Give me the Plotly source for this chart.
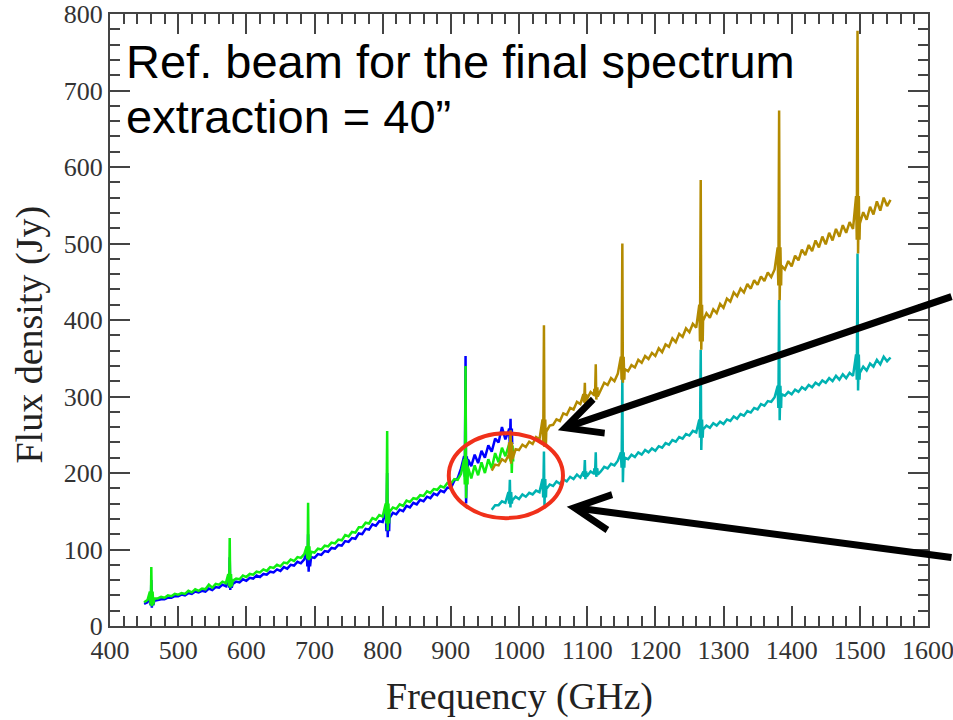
import plotly.graph_objects as go

# ---------------- data ----------------
# low-frequency bands (450-990 GHz), 5 GHz sampling
freq_low = list(range(450, 995, 5))
green_flux = [31, 34, 33, 36, 36, 38, 37, 40, 39, 42,
              41, 43, 42, 46, 44, 48, 46, 49, 48, 54,
              50, 55, 54, 58, 56, 60, 59, 62, 61, 66,
              64, 68, 67, 71, 70, 74, 72, 77, 76, 80,
              78, 83, 82, 87, 85, 90, 89, 94, 93, 97,
              96, 101, 100, 105, 104, 109, 108, 113, 112, 119,
              117, 123, 122, 129, 129, 135, 134, 141, 139, 145,
              143, 150, 149, 155, 153, 159, 157, 164, 162, 167,
              166, 171, 170, 176, 174, 179, 178, 183, 181, 187,
              186, 192, 191, 199, 198, 208, 193, 210, 197, 214,
              200, 218, 206, 226, 214, 233, 222, 236, 226]
blue_flux = [29, 31, 30, 33, 34, 35, 35, 37, 37, 39,
             39, 41, 40, 43, 42, 45, 44, 46, 45, 49,
             47, 51, 50, 54, 52, 56, 55, 58, 57, 61,
             59, 63, 62, 66, 64, 68, 67, 71, 70, 74,
             72, 77, 75, 80, 79, 84, 82, 87, 86, 90,
             89, 94, 93, 98, 97, 102, 101, 106, 105, 111,
             110, 115, 114, 121, 120, 127, 126, 133, 131, 137,
             136, 142, 141, 148, 146, 152, 150, 157, 155, 161,
             159, 165, 163, 169, 167, 173, 171, 177, 175, 181,
             180, 190, 193, 206, 210, 218, 209, 224, 213, 229,
             220, 236, 228, 245, 240, 260, 244, 256, 240]

# high-frequency bands (960-1545 GHz), 5 GHz sampling
freq_high = list(range(960, 1550, 5))
gold_flux = [203, 211, 210, 218, 215, 224, 221, 231, 230, 237,
             234, 241, 238, 247, 244, 252, 254, 262, 263, 270,
             268, 278, 276, 285, 283, 293, 290, 300, 297, 306,
             302, 312, 309, 318, 315, 324, 320, 330, 328, 336,
             333, 341, 338, 348, 344, 353, 349, 357, 353, 363,
             358, 368, 365, 376, 371, 382, 378, 389, 384, 395,
             390, 401, 399, 409, 403, 414, 409, 421, 416, 428,
             424, 436, 431, 441, 436, 447, 441, 452, 446, 457,
             451, 462, 456, 466, 461, 471, 466, 477, 470, 484,
             478, 492, 485, 498, 490, 504, 495, 509, 499, 514,
             504, 519, 509, 524, 514, 528, 519, 533, 526, 541,
             531, 548, 538, 555, 543, 560, 549, 557]
cyan_flux = [152, 158, 158, 163, 161, 167, 164, 169, 166, 172,
             169, 174, 172, 177, 175, 180, 179, 185, 183, 189,
             186, 192, 189, 195, 192, 198, 194, 199, 196, 202,
             199, 205, 202, 208, 206, 212, 210, 216, 215, 220,
             218, 224, 221, 227, 224, 230, 227, 232, 229, 235,
             233, 239, 237, 243, 241, 247, 245, 251, 249, 255,
             253, 260, 257, 262, 259, 265, 262, 267, 264, 270,
             268, 274, 271, 277, 275, 281, 279, 285, 283, 290,
             288, 294, 293, 299, 297, 303, 301, 306, 303, 309,
             306, 312, 309, 315, 312, 318, 315, 321, 318, 324,
             320, 327, 322, 329, 324, 331, 327, 333, 331, 339,
             334, 343, 339, 348, 342, 352, 346, 351]

# spectral lines: frequency, peak, dip, and the noisy burst around each line
green_line_f = [461, 576, 691, 807, 922, 989]
green_line_top = [77, 115, 161, 255, 340, 240]
green_line_dip = [26, 50, 86, 125, 167, 200]
green_line_hi = [45, 68, 104, 160, 218, 236]
green_line_lo = [28, 52, 88, 134, 185, 215]

blue_line_f = [461, 576, 691, 807, 922, 988]
blue_line_top = [60, 90, 120, 200, 353, 271]
blue_line_dip = [24, 47, 71, 116, 160, 230]
blue_line_hi = [40, 62, 98, 152, 222, 258]
blue_line_lo = [27, 50, 78, 124, 195, 238]

gold_line_f = [988, 1037, 1097, 1113, 1152, 1267, 1382, 1497]
gold_line_top = [256, 393, 318, 342, 500, 583, 674, 778]
gold_line_dip = [212, 234, 288, 296, 318, 361, 426, 487]
gold_line_hi = [240, 270, 303, 310, 352, 420, 495, 562]
gold_line_lo = [218, 238, 292, 300, 322, 372, 445, 505]

cyan_line_f = [987, 1037, 1097, 1113, 1152, 1267, 1382, 1497]
cyan_line_top = [191, 228, 217, 227, 326, 361, 426, 487]
cyan_line_dip = [155, 158, 192, 195, 188, 230, 269, 308]
cyan_line_hi = [175, 192, 202, 206, 227, 270, 314, 355]
cyan_line_lo = [160, 168, 195, 198, 207, 246, 285, 322]

x_ticks = [400, 500, 600, 700, 800, 900, 1000, 1100, 1200, 1300, 1400, 1500, 1600]
y_ticks = [0, 100, 200, 300, 400, 500, 600, 700, 800]


def spectrum(freqs, flux, lf, top, dip, hi, lo):
    pts = list(zip(freqs, flux))
    for f, t, d, h, l in zip(lf, top, dip, hi, lo):
        pts += [(f - 2.5, h), (f - 1.5, l), (f - 0.4, t), (f + 0.4, d),
                (f + 1.5, h), (f + 2.5, l)]
    pts.sort(key=lambda p: p[0])
    return [p[0] for p in pts], [p[1] for p in pts]


series = [
    ("blue", "#0000FF", freq_low, blue_flux, blue_line_f, blue_line_top, blue_line_dip, blue_line_hi, blue_line_lo),
    ("green", "#11EE11", freq_low, green_flux, green_line_f, green_line_top, green_line_dip, green_line_hi, green_line_lo),
    ("cyan", "#00B2B2", freq_high, cyan_flux, cyan_line_f, cyan_line_top, cyan_line_dip, cyan_line_hi, cyan_line_lo),
    ("gold", "#B38A00", freq_high, gold_flux, gold_line_f, gold_line_top, gold_line_dip, gold_line_hi, gold_line_lo),
]

fig = go.Figure()
for name, color, fq, fl, lf, lt, ld, lh, ll in series:
    xs, ys = spectrum(fq, fl, lf, lt, ld, lh, ll)
    fig.add_trace(go.Scatter(x=xs, y=ys, mode="lines", name=name,
                             line=dict(color=color, width=2.5), showlegend=False,
                             hoverinfo="skip"))

axis_common = dict(
    showline=True, linecolor="#444", linewidth=2, mirror="ticks",
    ticks="inside", ticklen=20, tickwidth=1.5, tickcolor="#444",
    showgrid=False, zeroline=False, automargin=False, ticklabeloverflow="allow",
    tickfont=dict(family="Liberation Serif", size=26, color="#333"),
)

fig.update_xaxes(range=[400, 1600], tickvals=x_ticks,
                 minor=dict(dtick=20, ticks="inside", ticklen=10, tickcolor="#444", tickwidth=1.5),
                 **axis_common)
fig.update_yaxes(range=[0, 800], tickvals=y_ticks,
                 minor=dict(dtick=20, ticks="inside", ticklen=10, tickcolor="#444", tickwidth=1.5),
                 **axis_common)

# red ellipse around the band overlap
fig.add_shape(type="circle", xref="x", yref="y", x0=897, x1=1064.5, y0=141, y1=252,
              line=dict(color="#F0301A", width=4), layer="above")

annotations = [
    dict(text="Ref. beam for the final spectrum", xref="paper", yref="paper",
         x=0.017, y=0.922, xanchor="left", yanchor="middle", showarrow=False,
         font=dict(family="Liberation Sans", size=47, color="black")),
    dict(text="extraction = 40\u201d", xref="paper", yref="paper",
         x=0.017, y=0.833, xanchor="left", yanchor="middle", showarrow=False,
         font=dict(family="Liberation Sans", size=47, color="black")),
    dict(text="Frequency (GHz)", xref="paper", yref="paper", x=0.5, y=-0.116,
         xanchor="center", yanchor="middle", showarrow=False,
         font=dict(family="Liberation Serif", size=38, color="#222")),
    dict(text="Flux density (Jy)", xref="paper", yref="paper", x=-0.098, y=0.476,
         xanchor="center", yanchor="middle", showarrow=False, textangle=-90,
         font=dict(family="Liberation Serif", size=38, color="#222")),
    dict(text="", x=1057, y=256, xref="x", yref="y", ax=402, ay=-134,
         showarrow=True, arrowhead=5, arrowwidth=7, arrowsize=1.0, arrowcolor="black"),
    dict(text="", x=1070, y=156, xref="x", yref="y", ax=393, ay=51,
         showarrow=True, arrowhead=5, arrowwidth=7, arrowsize=1.0, arrowcolor="black"),
]
fig.update_layout(
    width=953, height=720,
    margin=dict(l=110, r=25, t=14, b=94),
    paper_bgcolor="white", plot_bgcolor="white",
    annotations=annotations,
)

# remove the default 8 px page margin so the figure fills the window exactly
fig.write_html("out.html", config={"displayModeBar": False},
               post_script="document.body.style.margin='0';")
